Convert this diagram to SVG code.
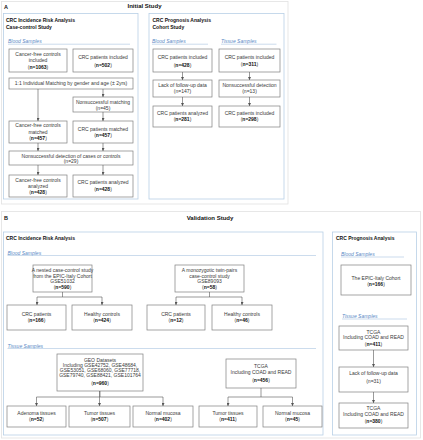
<svg xmlns="http://www.w3.org/2000/svg" width="423" height="440" viewBox="0 0 423 440">
<style>
text{font-family:"Liberation Sans",Arial,sans-serif;fill:#3a3a3a}
.t{font-size:5px;text-anchor:middle}
.b{font-weight:bold;fill:#111}
.h{font-size:5px;font-weight:bold;fill:#111}
.ttl{font-size:6px;font-weight:bold;fill:#111;text-anchor:middle}
.lbl{font-size:5.5px;font-weight:bold;fill:#111}
.s{font-size:5px;font-style:italic;fill:#5a8ac6}
.ul{stroke:#a9c4e0;stroke-width:0.6}
.frame{fill:none;stroke:#e2e2e2;stroke-width:0.8}
.sec{fill:none;stroke:#b8d0e6;stroke-width:0.8}
.n{fill:#fff;stroke:#7f7f7f;stroke-width:0.7}
.c{fill:none;stroke:#555;stroke-width:0.6}
</style>
<defs>
<marker id="ah" markerUnits="userSpaceOnUse" markerWidth="3" markerHeight="3" refX="3" refY="1.5" orient="auto"><path d="M0,0 L3,1.5 L0,3 z" fill="#555"/></marker>
</defs>
<rect width="423" height="440" fill="#fff"/>

<!-- Panel A -->
<g id="panelA">
<rect class="frame" x="1.5" y="1.5" width="286.5" height="202.5"/>
<text class="lbl" x="4" y="8.5">A</text>
<text class="ttl" x="144.5" y="8">Initial Study</text>
<rect class="sec" x="3.5" y="13.5" width="134.5" height="185.5"/>
<text class="h" x="6" y="21.8">CRC Incidence Risk Analysis</text>
<text class="h" x="6" y="28.5">Case-control Study</text>
<text class="s" x="8" y="43.3">Blood Samples</text>
<line class="ul" x1="8" y1="44.2" x2="130" y2="44.2"/>
<rect class="sec" x="149" y="13.5" width="135" height="185.5"/>
<text class="h" x="152.5" y="21.8">CRC Prognosis Analysis</text>
<text class="h" x="152.5" y="28.5">Cohort Study</text>
<text class="s" x="152" y="43.3">Blood Samples</text>
<line class="ul" x1="152" y1="44.2" x2="208" y2="44.2"/>
<text class="s" x="221" y="43.3">Tissue Samples</text>
<line class="ul" x1="221" y1="44.2" x2="276.5" y2="44.2"/>
</g>

<g id="a1"><rect class="n" x="9" y="49" width="58" height="23"/><text class="t" x="38" y="55.5">Cancer-free controls</text><text class="t" x="38" y="62">included</text><text class="t" x="38" y="68.5">(<tspan class="b">n=1063</tspan>)</text></g>
<g id="a2"><rect class="n" x="73" y="49" width="60" height="23"/><text class="t" x="103" y="59">CRC patients included</text><text class="t" x="103" y="67">(<tspan class="b">n=502</tspan>)</text></g>
<g id="a3"><rect class="n" x="9" y="78" width="124" height="11"/><text class="t" x="71" y="85.3">1:1 Individual Matching by gender and age (± 2yrs)</text></g>
<g id="a4"><rect class="n" x="73" y="97" width="60" height="15"/><text class="t" x="103" y="103.5">Nonsuccessful matching</text><text class="t" x="103" y="109.5">(n=45)</text></g>
<g id="a5"><rect class="n" x="9" y="121" width="58" height="22"/><text class="t" x="38" y="127">Cancer-free controls</text><text class="t" x="38" y="133.5">matched</text><text class="t" x="38" y="140">(<tspan class="b">n=457</tspan>)</text></g>
<g id="a6"><rect class="n" x="73" y="121" width="60" height="22"/><text class="t" x="103" y="130.8">CRC patients matched</text><text class="t" x="103" y="137.3">(<tspan class="b">n=457</tspan>)</text></g>
<g id="a7"><rect class="n" x="9" y="151" width="124" height="14"/><text class="t" x="71" y="157.5">Nonsuccessful detection of cases or controls</text><text class="t" x="71" y="163">(n=29)</text></g>
<g id="a8"><rect class="n" x="9" y="175" width="58" height="22"/><text class="t" x="38" y="181.8">Cancer-free controls</text><text class="t" x="38" y="187.8">analyzed</text><text class="t" x="38" y="194">(<tspan class="b">n=428</tspan>)</text></g>
<g id="a9"><rect class="n" x="73" y="175" width="60" height="22"/><text class="t" x="103" y="184.3">CRC patients analyzed</text><text class="t" x="103" y="190.8">(<tspan class="b">n=428</tspan>)</text></g>

<g id="b1"><rect class="n" x="153" y="49" width="59" height="23"/><text class="t" x="182.5" y="59">CRC patients included</text><text class="t" x="182.5" y="66.5">(<tspan class="b">n=428</tspan>)</text></g>
<g id="b2"><rect class="n" x="153" y="80" width="59" height="17"/><text class="t" x="182.5" y="86.8">Lack of follow-up data</text><text class="t" x="182.5" y="92.8">(n=147)</text></g>
<g id="b3"><rect class="n" x="153" y="106" width="59" height="21"/><text class="t" x="182.5" y="115">CRC patients analyzed</text><text class="t" x="182.5" y="121.2">(<tspan class="b">n=281</tspan>)</text></g>
<g id="t1"><rect class="n" x="219" y="49" width="61" height="23"/><text class="t" x="249.5" y="59">CRC patients included</text><text class="t" x="249.5" y="66">(<tspan class="b">n=311</tspan>)</text></g>
<g id="t2"><rect class="n" x="219" y="80" width="61" height="17"/><text class="t" x="249.5" y="86.8">Nonsuccessful detection</text><text class="t" x="249.5" y="92.5">(n=13)</text></g>
<g id="t3"><rect class="n" x="219" y="106" width="61" height="21"/><text class="t" x="249.5" y="115">CRC patients included</text><text class="t" x="249.5" y="121.2">(<tspan class="b">n=298</tspan>)</text></g>

<!-- Panel B -->
<g id="panelB">
<rect class="frame" x="1.5" y="211.5" width="419" height="226.5"/>
<text class="lbl" x="4" y="220.3">B</text>
<text class="ttl" x="210" y="220.3">Validation Study</text>
<rect class="sec" x="3.5" y="232" width="319.5" height="203"/>
<text class="h" x="6" y="240.3">CRC Incidence Risk Analysis</text>
<text class="s" x="7.5" y="254.5">Blood Samples</text>
<line class="ul" x1="7.5" y1="255.5" x2="316" y2="255.5"/>
<text class="s" x="7.5" y="347.5">Tissue Samples</text>
<line class="ul" x1="7.5" y1="348.5" x2="316" y2="348.5"/>
<rect class="sec" x="332.5" y="232" width="84" height="203"/>
<text class="h" x="336" y="240.3">CRC Prognosis Analysis</text>
<text class="s" x="341" y="256">Blood Samples</text>
<line class="ul" x1="341" y1="257" x2="404" y2="257"/>
<text class="s" x="342" y="318">Tissue Samples</text>
<line class="ul" x1="342" y1="319" x2="407" y2="319"/>
</g>

<g id="v1"><rect class="n" x="33" y="265" width="59" height="27"/><text class="t" x="62.5" y="272">A nested case-control study</text><text class="t" x="62.5" y="277.5">from the EPIC-Italy Cohort</text><text class="t" x="62.5" y="283">GSE51032</text><text class="t" x="62.5" y="288.5">(<tspan class="b">n=590</tspan>)</text></g>
<g id="v2"><rect class="n" x="7" y="305" width="59" height="25"/><text class="t" x="36.5" y="316.3">CRC patients</text><text class="t" x="36.5" y="322.3">(<tspan class="b">n=166</tspan>)</text></g>
<g id="v3"><rect class="n" x="72" y="305" width="60" height="25"/><text class="t" x="102" y="316.3">Healthy controls</text><text class="t" x="102" y="322.3">(<tspan class="b">n=424</tspan>)</text></g>
<g id="v4"><rect class="n" x="175" y="265" width="69" height="27"/><text class="t" x="209.5" y="272">A monozygotic twin-pairs</text><text class="t" x="209.5" y="277.5">case-control study</text><text class="t" x="209.5" y="283">GSE89093</text><text class="t" x="209.5" y="288.5">(<tspan class="b">n=58</tspan>)</text></g>
<g id="v5"><rect class="n" x="147" y="305" width="58" height="25"/><text class="t" x="176" y="316.3">CRC patients</text><text class="t" x="176" y="322.3">(<tspan class="b">n=12</tspan>)</text></g>
<g id="v6"><rect class="n" x="212" y="305" width="60" height="25"/><text class="t" x="242" y="316.3">Healthy controls</text><text class="t" x="242" y="322.3">(<tspan class="b">n=46</tspan>)</text></g>
<g id="v7"><rect class="n" x="57" y="354" width="86" height="37"/><text class="t" x="100" y="361.5">GEO Datasets</text><text class="t" x="100" y="366.8">Including GSE42752, GSE48684,</text><text class="t" x="100" y="372.1">GSE53051, GSE68060, GSE77718,</text><text class="t" x="100" y="377.4">GSE79740, GSE88421, GSE101764</text><text class="t" x="100" y="385">(<tspan class="b">n=960</tspan>)</text></g>
<g id="v8"><rect class="n" x="7" y="406" width="59" height="21"/><text class="t" x="36.5" y="414.5">Adenoma tissues</text><text class="t" x="36.5" y="421">(<tspan class="b">n=52</tspan>)</text></g>
<g id="v9"><rect class="n" x="69" y="406" width="61" height="21"/><text class="t" x="99.5" y="414.5">Tumor tissues</text><text class="t" x="99.5" y="421">(<tspan class="b">n=507</tspan>)</text></g>
<g id="v10"><rect class="n" x="133" y="406" width="60" height="21"/><text class="t" x="163" y="414.5">Normal mucosa</text><text class="t" x="163" y="421">(<tspan class="b">n=402</tspan>)</text></g>
<g id="v11"><rect class="n" x="226" y="359" width="70" height="29"/><text class="t" x="261" y="368">TCGA</text><text class="t" x="261" y="374.3">Including COAD and READ</text><text class="t" x="261" y="381.5">(<tspan class="b">n=456</tspan>)</text></g>
<g id="v12"><rect class="n" x="199" y="406" width="58" height="21"/><text class="t" x="228" y="414.5">Tumor tissues</text><text class="t" x="228" y="421">(<tspan class="b">n=411</tspan>)</text></g>
<g id="v13"><rect class="n" x="263" y="406" width="59" height="21"/><text class="t" x="292.5" y="414.5">Normal mucosa</text><text class="t" x="292.5" y="421">(<tspan class="b">n=45</tspan>)</text></g>
<g id="p1"><rect class="n" x="341" y="265" width="70" height="30"/><text class="t" x="376" y="279.5">The EPIC-Italy Cohort</text><text class="t" x="376" y="285.5">(<tspan class="b">n=166</tspan>)</text></g>
<g id="p2"><rect class="n" x="339" y="326" width="69" height="24"/><text class="t" x="373.5" y="333.5">TCGA</text><text class="t" x="373.5" y="339.2">Including COAD and READ</text><text class="t" x="373.5" y="346">(<tspan class="b">n=411</tspan>)</text></g>
<g id="p3"><rect class="n" x="339" y="367" width="69" height="25"/><text class="t" x="373.5" y="375">Lack of follow-up data</text><text class="t" x="373.5" y="382.5">(n=31)</text></g>
<g id="p4"><rect class="n" x="339" y="403" width="69" height="25"/><text class="t" x="373.5" y="410">TCGA</text><text class="t" x="373.5" y="416">Including COAD and READ</text><text class="t" x="373.5" y="422.8">(<tspan class="b">n=380</tspan>)</text></g>

<g id="connectors">
<path class="c" d="M38,89 V121" marker-end="url(#ah)"/>
<path class="c" d="M103,89 V97" marker-end="url(#ah)"/>
<path class="c" d="M103,112 V121" marker-end="url(#ah)"/>
<path class="c" d="M38,143 V151" marker-end="url(#ah)"/>
<path class="c" d="M103,143 V151" marker-end="url(#ah)"/>
<path class="c" d="M38,165 V175" marker-end="url(#ah)"/>
<path class="c" d="M103,165 V175" marker-end="url(#ah)"/>
<path class="c" d="M182.5,72 V80" marker-end="url(#ah)"/>
<path class="c" d="M182.5,97 V106" marker-end="url(#ah)"/>
<path class="c" d="M249.5,72 V80" marker-end="url(#ah)"/>
<path class="c" d="M249.5,97 V106" marker-end="url(#ah)"/>
<path class="c" d="M62.5,292 V297 M37,297 H102"/>
<path class="c" d="M37,297 V305" marker-end="url(#ah)"/>
<path class="c" d="M102,297 V305" marker-end="url(#ah)"/>
<path class="c" d="M209.5,292 V297 M176,297 H242"/>
<path class="c" d="M176,297 V305" marker-end="url(#ah)"/>
<path class="c" d="M242,297 V305" marker-end="url(#ah)"/>
<path class="c" d="M100,391 V397 M36.5,397 H163"/>
<path class="c" d="M36.5,397 V406" marker-end="url(#ah)"/>
<path class="c" d="M99.5,391 V406" marker-end="url(#ah)"/>
<path class="c" d="M163,397 V406" marker-end="url(#ah)"/>
<path class="c" d="M261,388 V397 M228,397 H292.5"/>
<path class="c" d="M228,397 V406" marker-end="url(#ah)"/>
<path class="c" d="M292.5,397 V406" marker-end="url(#ah)"/>
<path class="c" d="M373.5,350 V367" marker-end="url(#ah)"/>
<path class="c" d="M373.5,392 V403" marker-end="url(#ah)"/>
</g>
</svg>
